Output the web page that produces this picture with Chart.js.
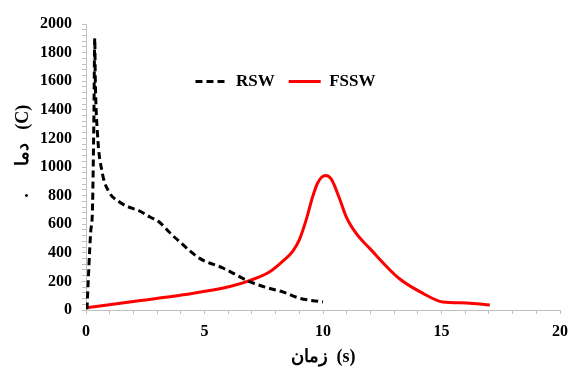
<!DOCTYPE html>
<html>
<head>
<meta charset="utf-8">
<script src="https://cdn.jsdelivr.net/npm/chart.js@4/dist/chart.umd.min.js"></script>
<style>
html,body{margin:0;padding:0;background:#fff;}
#wrap{width:569px;height:367px;position:relative;}
</style>
</head>
<body>
<div id="wrap"><canvas id="c" width="569" height="367"></canvas></div>
<script>
const seriesNames = ['RSW', 'FSSW'];
const rswTime = [0.04, 0.2, 0.27, 0.33, 0.37, 0.39, 0.48, 0.68, 0.97, 1.4, 1.68, 2.24, 2.7, 3.09, 3.54, 3.8, 4.8, 5.8, 6.9, 7.7, 8.33, 9.0, 10.0];
const rswTemp = [5, 550, 690, 1300, 1900, 1634, 1243, 965, 826, 757, 729, 694, 650, 615, 540, 500, 361, 292, 199, 153, 125, 83, 56];
const fsswTime = [0, 2, 4.1, 6.07, 6.9, 7.77, 8.33, 8.72, 9.0, 9.29, 9.56, 9.78, 10.1, 10.35, 10.7, 10.98, 11.4, 11.97, 13.2, 14.2, 15.05, 16.06, 17.04];
const fsswTemp = [15, 60, 106, 164, 205, 269, 345, 410, 490, 630, 790, 890, 940, 915, 778, 651, 535, 431, 222, 118, 56, 49, 35];
const xTickLabels = [0, 5, 10, 15, 20];
const yTickLabels = [0, 200, 400, 600, 800, 1000, 1200, 1400, 1600, 1800, 2000];
const xTitle = 'زمان  (s)';
const yTitle = '\u00a0\u00a0\u00a0\u00a0\u00a0\u00a0\u00a0.\u00a0\u00a0\u00a0\u00a0\u00a0\u00a0دما\u00a0\u00a0\u00a0(C)';

const toPts = (xs, ys) => xs.map((x, i) => ({x: x, y: ys[i]}));
const serif = '"Liberation Serif", "Times New Roman", serif';

const shiftLegend = {
  id: 'shiftLegend',
  afterLayout(chart) {
    const lg = chart.legend;
    if (!lg) return;
    lg.left += 1; lg.right += 1;
    lg.top += 76; lg.bottom += 76;
  }
};

new Chart(document.getElementById('c'), {
  type: 'line',
  data: {
    datasets: [
      {
        label: seriesNames[0],
        data: toPts(rswTime, rswTemp),
        borderColor: '#000000',
        backgroundColor: '#000000',
        borderWidth: 3,
        borderDash: [7, 4],
        pointRadius: 0,
        fill: false,
        cubicInterpolationMode: 'monotone'
      },
      {
        label: seriesNames[1],
        data: toPts(fsswTime, fsswTemp),
        borderColor: '#ff0000',
        backgroundColor: '#ff0000',
        borderWidth: 3,
        pointRadius: 0,
        fill: false,
        cubicInterpolationMode: 'monotone'
      }
    ]
  },
  options: {
    responsive: false,
    animation: false,
    layout: {padding: {left: 0, right: 0, top: -17, bottom: 0}},
    plugins: {
      legend: {
        position: 'top',
        align: 'center',
        labels: {
          usePointStyle: true,
          pointStyle: 'line',
          pointStyleWidth: 32,
          padding: 14,
          color: '#000',
          font: {family: serif, size: 17, weight: 'bold'},
          generateLabels(chart) {
            const items = Chart.defaults.plugins.legend.labels.generateLabels(chart);
            items.forEach((it) => {
              const ds = chart.data.datasets[it.datasetIndex];
              it.lineDash = ds.borderDash || [];
              it.lineWidth = ds.borderWidth;
              it.strokeStyle = ds.borderColor;
              it.pointStyle = 'line';
            });
            return items;
          }
        }
      },
      tooltip: {enabled: false}
    },
    scales: {
      x: {
        type: 'linear',
        min: 0, max: 20,
        afterFit(s) { s.height = 57; s.paddingRight = 9; },
        border: {display: true, color: '#bfbfbf', width: 1},
        grid: {drawOnChartArea: false, drawTicks: true, tickLength: 4, color: '#bfbfbf'},
        ticks: {
          stepSize: 1, autoSkip: false, maxRotation: 0, padding: 8,
          color: '#000',
          font: {family: serif, size: 16, weight: 'bold'},
          callback: (v) => xTickLabels.includes(v) ? String(v) : ''
        },
        title: {
          display: true, text: xTitle, color: '#000',
          font: {family: serif, size: 18, weight: 'bold'},
          padding: {top: 0, bottom: -1}
        }
      },
      y: {
        type: 'linear',
        min: 0, max: 2000,
        afterFit(s) { s.width = 86; },
        border: {display: true, color: '#bfbfbf', width: 1},
        grid: {drawOnChartArea: false, drawTicks: true, tickLength: 4, color: '#bfbfbf'},
        ticks: {
          stepSize: 40, autoSkip: false, padding: 10,
          color: '#000',
          font: {family: serif, size: 16, weight: 'bold'},
          callback: (v) => yTickLabels.includes(v) ? String(v) : ''
        },
        title: {
          display: true, text: yTitle, color: '#000',
          font: {family: serif, size: 18, weight: 'bold'},
          padding: {top: 13, bottom: 0}
        }
      }
    }
  },
  plugins: [shiftLegend]
});
</script>
</body>
</html>
